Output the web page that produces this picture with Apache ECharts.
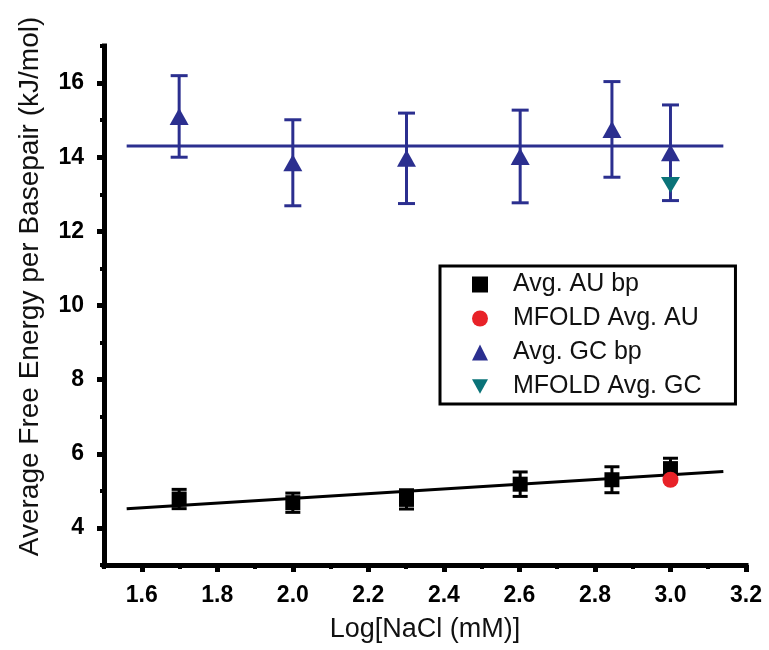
<!DOCTYPE html>
<html>
<head>
<meta charset="utf-8">
<script src="https://cdn.jsdelivr.net/npm/echarts@6/dist/echarts.min.js"></script>
<style>
html,body{margin:0;padding:0;background:#fff;}
#chart{width:769px;height:650px;}
</style>
</head>
<body>
<div id="chart"></div>
<script>
// ---- data ----
const logNaCl = [1.699, 2.0, 2.301, 2.602, 2.845, 3.0];
const auMean  = [4.78, 4.68, 4.77, 5.18, 5.30, 5.60];
const auErr   = [0.26, 0.26, 0.26, 0.33, 0.35, 0.28];
const gcMean  = [15.10, 13.85, 13.97, 14.02, 14.75, 14.12];
const gcErr   = [1.10, 1.16, 1.22, 1.25, 1.29, 1.29];
const mfoldX  = [3.0];
const mfoldAU = [5.30];
const mfoldGC = [13.25];
const fitX    = [1.56, 3.14];
const auFitY  = [4.52, 5.52];
const gcFitY  = [14.30, 14.30];
const xMajorTicks = [1.6, 1.8, 2.0, 2.2, 2.4, 2.6, 2.8, 3.0, 3.2];
const xMinorTicks = [1.5, 1.7, 1.9, 2.1, 2.3, 2.5, 2.7, 2.9, 3.1];
const yMajorTicks = [4, 6, 8, 10, 12, 14, 16];
const yMinorTicks = [3, 5, 7, 9, 11, 13, 15, 17];
const xRange = [1.5, 3.2];
const yRange = [3, 17];

const FONT = "'Liberation Sans', Arial, Helvetica, sans-serif";
const BLUE = '#2B2F8F';
const TEAL = '#0A7378';
const RED  = '#E82228';

const zip = (xs, ys) => xs.map((x, i) => [x, ys[i]]);
const errData = (xs, m, e) => xs.map((x, i) => [x, m[i] - e[i], m[i] + e[i]]);

function errRender(color, capW, lw) {
  return function (params, api) {
    const x = api.value(0);
    const lo = api.coord([x, api.value(1)]);
    const hi = api.coord([x, api.value(2)]);
    const st = { stroke: color, lineWidth: lw };
    return {
      type: 'group',
      children: [
        { type: 'line', shape: { x1: lo[0], y1: lo[1], x2: hi[0], y2: hi[1] }, style: st },
        { type: 'line', shape: { x1: lo[0] - capW / 2, y1: lo[1], x2: lo[0] + capW / 2, y2: lo[1] }, style: st },
        { type: 'line', shape: { x1: hi[0] - capW / 2, y1: hi[1], x2: hi[0] + capW / 2, y2: hi[1] }, style: st }
      ]
    };
  };
}

const tickLabelStyle = { fontSize: 23, fontWeight: 'bold', color: '#000', fontFamily: FONT };
const nameStyle = { fontSize: 27, color: '#111', fontFamily: FONT };

const chart = echarts.init(document.getElementById('chart'), null, { renderer: 'canvas' });
chart.setOption({
  animation: false,
  backgroundColor: '#fff',
  grid: { left: 104, right: 23, top: 46, bottom: 85, outerBoundsMode: 'none', containLabel: false },
  xAxis: [
    {
      type: 'value', min: xRange[0], max: xRange[1], position: 'bottom',
      axisLine: { show: true, lineStyle: { color: '#000', width: 5, cap: 'square' } },
      axisTick: { show: true, customValues: xMajorTicks, length: 7, lineStyle: { color: '#000', width: 5 } },
      axisLabel: { customValues: xMajorTicks, formatter: v => Number(v).toFixed(1), margin: 19, ...tickLabelStyle },
      splitLine: { show: false },
      name: 'Log[NaCl (mM)]', nameLocation: 'middle', nameGap: 51, nameTextStyle: nameStyle
    },
    {
      type: 'value', min: xRange[0], max: xRange[1], position: 'bottom',
      axisLine: { show: false },
      axisTick: { show: true, customValues: xMinorTicks, length: 4, lineStyle: { color: '#000', width: 4 } },
      axisLabel: { show: false }, splitLine: { show: false }
    }
  ],
  yAxis: [
    {
      type: 'value', min: yRange[0], max: yRange[1], position: 'left',
      axisLine: { show: true, lineStyle: { color: '#000', width: 5, cap: 'square' } },
      axisTick: { show: true, customValues: yMajorTicks, length: 7, lineStyle: { color: '#000', width: 5 } },
      axisLabel: { customValues: yMajorTicks, margin: 20, ...tickLabelStyle },
      splitLine: { show: false },
      name: 'Average Free Energy per Basepair (kJ/mol)', nameLocation: 'middle', nameGap: 60,
      nameTextStyle: { ...nameStyle, fontSize: 28, padding: [0, 0, 0, 38] }
    },
    {
      type: 'value', min: yRange[0], max: yRange[1], position: 'left',
      axisLine: { show: false },
      axisTick: { show: true, customValues: yMinorTicks, length: 4, lineStyle: { color: '#000', width: 4 } },
      axisLabel: { show: false }, splitLine: { show: false }
    }
  ],
  legend: {
    orient: 'vertical', left: 440, top: 266,
    backgroundColor: '#fff', borderColor: '#000', borderWidth: 3, borderRadius: 0,
    padding: [6, 34, 5, 32],
    itemWidth: 16, itemHeight: 16, itemGap: 9,
    textStyle: { fontSize: 25, color: '#111', fontFamily: FONT, lineHeight: 24, padding: [0, 0, 0, 20] },
    data: ['Avg. AU bp', 'MFOLD Avg. AU', 'Avg. GC bp', 'MFOLD Avg. GC']
  },
  series: [
    { name: 'AU fit', type: 'line', data: zip(fitX, auFitY), showSymbol: false, symbol: 'none',
      lineStyle: { color: '#000', width: 3 }, silent: true, z: 2 },
    { name: 'GC fit', type: 'line', data: zip(fitX, gcFitY), showSymbol: false, symbol: 'none',
      lineStyle: { color: BLUE, width: 3 }, silent: true, z: 2 },
    { name: 'AU err', type: 'custom', data: errData(logNaCl, auMean, auErr),
      renderItem: errRender('#000', 15, 3), encode: { x: 0, y: [1, 2] }, z: 3, silent: true },
    { name: 'GC err', type: 'custom', data: errData(logNaCl, gcMean, gcErr),
      renderItem: errRender(BLUE, 17, 3), encode: { x: 0, y: [1, 2] }, z: 3, silent: true },
    { name: 'Avg. AU bp', type: 'scatter', data: zip(logNaCl, auMean), symbol: 'rect', symbolSize: 15,
      itemStyle: { color: '#000', opacity: 1 }, z: 4 },
    { name: 'Avg. GC bp', type: 'scatter', data: zip(logNaCl, gcMean), symbol: 'triangle', symbolSize: [19, 17],
      itemStyle: { color: BLUE, opacity: 1 }, z: 4 },
    { name: 'MFOLD Avg. AU', type: 'scatter', data: zip(mfoldX, mfoldAU), symbol: 'circle', symbolSize: 16,
      itemStyle: { color: RED, opacity: 1 }, z: 5 },
    { name: 'MFOLD Avg. GC', type: 'scatter', data: zip(mfoldX, mfoldGC), symbol: 'path://M0,0L10,0L5,9Z',
      symbolSize: [19, 16], itemStyle: { color: TEAL, opacity: 1 }, z: 5 }
  ]
});
</script>
</body>
</html>
